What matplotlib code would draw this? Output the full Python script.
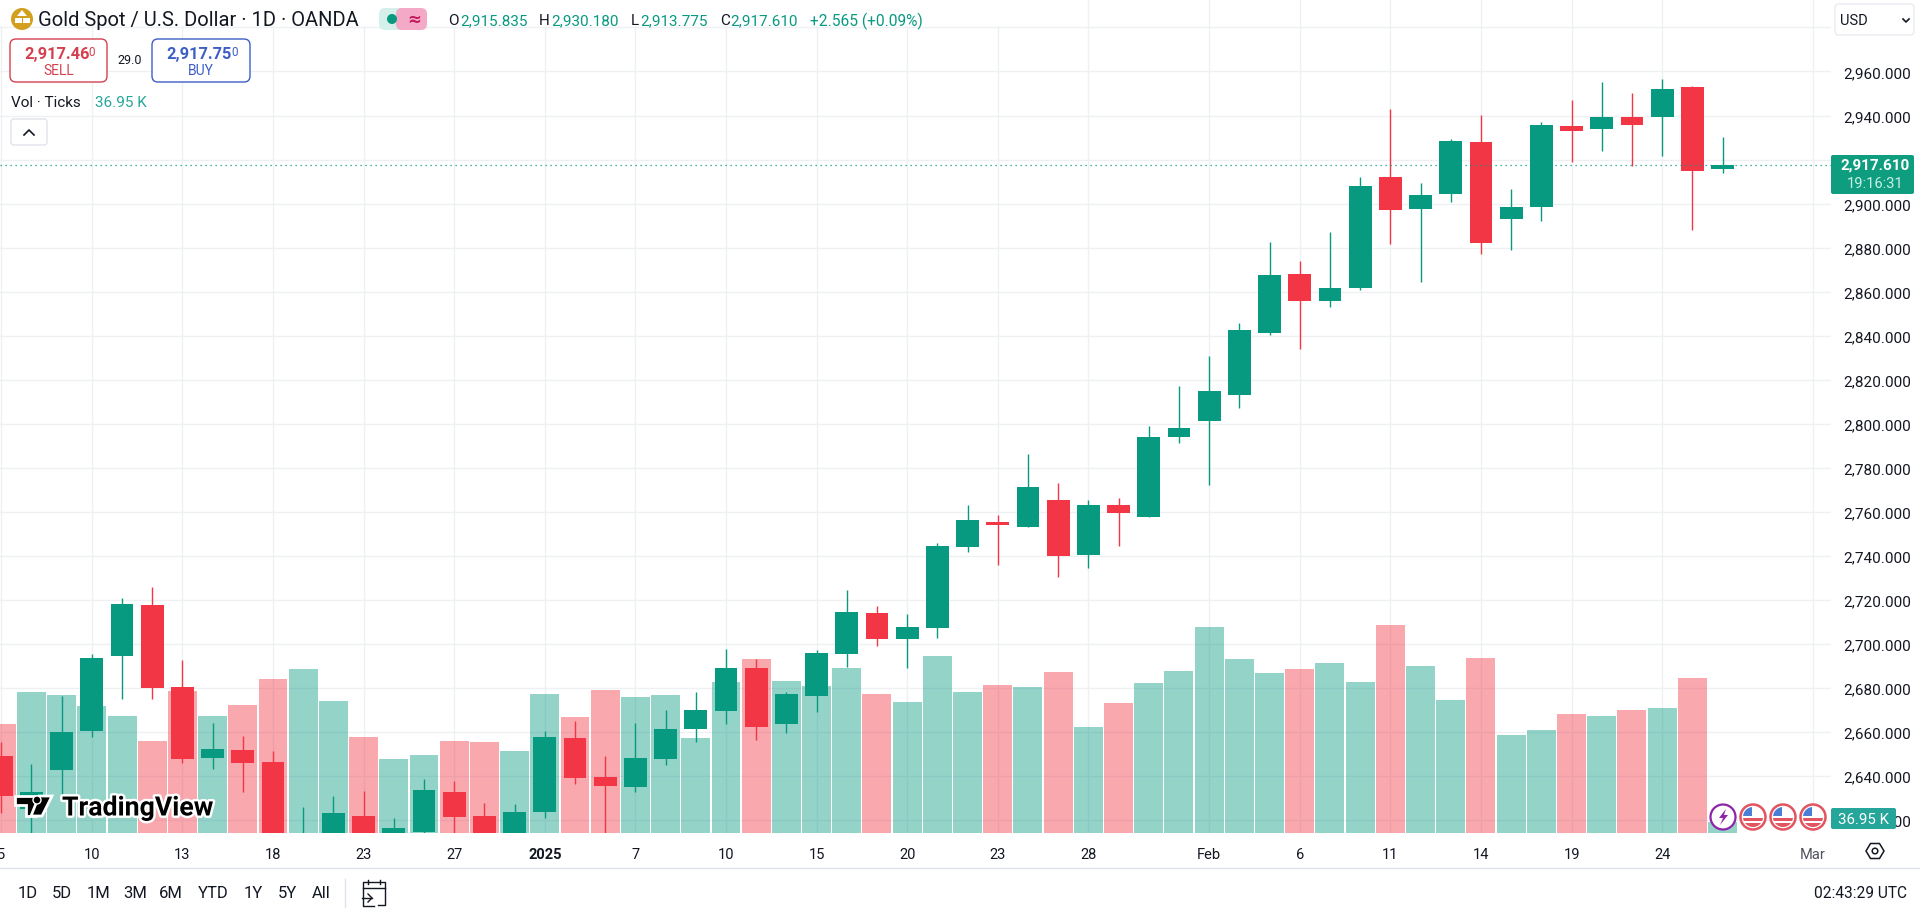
import matplotlib
matplotlib.use("Agg")
import matplotlib.pyplot as plt
import matplotlib.patheffects as pe
from matplotlib.patches import Circle, FancyBboxPatch, Polygon, Rectangle

# data
opens = [2649.2, 2625, 2642.6, 2660.6, 2694.7, 2717.9, 2680.6, 2648.3, 2652, 2646.5,
         2606, 2610, 2622, 2610, 2614.7, 2632.9, 2622, 2610, 2623.9, 2657.4,
         2639.7, 2635.2, 2647.9, 2661.5, 2669.7, 2689.2, 2663.8, 2676.5, 2695.6, 2714.2,
         2702.4, 2707.4, 2744.2, 2755.6, 2753.3, 2765.2, 2740.6, 2763.3, 2757.9, 2794.2,
         2801.5, 2812.9, 2841.1, 2867.9, 2855.6, 2861.5, 2912.1, 2897.6, 2904.4, 2928,
         2893, 2898.5, 2935.3, 2933.9, 2939.4, 2939.4, 2953, 2915.835]
highs = [2655.6, 2645.6, 2676.4, 2695.6, 2721, 2726, 2692.9, 2664.2, 2658.3, 2651.5,
         2626, 2631.2, 2633.3, 2621, 2638.8, 2637.9, 2627.9, 2627.4, 2660.6, 2665.2,
         2649.2, 2664.2, 2670.2, 2678.3, 2697.9, 2693.3, 2678.3, 2697.4, 2724.7, 2717.4,
         2713.8, 2746.1, 2763.3, 2758.8, 2786.1, 2772.9, 2765.2, 2766.5, 2798.8, 2817.3,
         2831, 2845.6, 2882.4, 2873.8, 2887, 2912.1, 2943, 2909.4, 2929.4, 2940.3,
         2906.7, 2937.1, 2947.1, 2955.3, 2950.3, 2956.7, 2953.5, 2930.18]
lows = [2623.3, 2605, 2632, 2657.9, 2675.2, 2675.2, 2646, 2643.3, 2632.9, 2605,
        2600, 2605, 2605, 2605, 2612, 2608, 2606, 2606, 2621.2, 2636.5,
        2608, 2632.9, 2645.2, 2655.6, 2663.8, 2656.5, 2659.7, 2669.2, 2689.7, 2699.2,
        2689.2, 2702.9, 2742, 2736, 2753, 2730.6, 2734.7, 2744.7, 2757.5, 2791.1,
        2772.4, 2807.4, 2840.2, 2834.2, 2852.9, 2860.6, 2881.7, 2864.4, 2900.8, 2877.1,
        2878.9, 2892.1, 2918.9, 2923.9, 2917.1, 2921.7, 2888, 2913.775]
closes = [2631.2, 2632.7, 2660.2, 2693.8, 2718.3, 2680.2, 2647.9, 2652.4, 2646, 2610,
          2612, 2623.3, 2610, 2616.5, 2633.8, 2621.5, 2610, 2623.8, 2657.9, 2639.2,
          2635.6, 2648.3, 2661.5, 2670.2, 2689.2, 2662.4, 2677.4, 2696.1, 2714.7, 2702.4,
          2707.9, 2744.7, 2756.5, 2754.2, 2771.1, 2740.2, 2763.3, 2759.7, 2794.2, 2797.9,
          2814.7, 2842.4, 2867.4, 2855.6, 2861.5, 2908, 2897.1, 2903.9, 2928.5, 2882.1,
          2898.5, 2935.8, 2933, 2939.4, 2935.8, 2952.1, 2914.8, 2917.61]
volumes_k = [366, 474, 464, 427, 393, 309, 477, 393, 430, 517,
             551, 444, 323, 249, 262, 309, 306, 276, 467, 390,
             480, 457, 464, 319, 507, 585, 511, 494, 554, 467,
             440, 595, 474, 497, 491, 541, 356, 437, 504, 544,
             692, 585, 538, 551, 571, 507, 699, 561, 447, 588,
             329, 346, 400, 393, 413, 420, 521, 36.95]
last_close = 2917.61

date_pos = [0, 3, 6, 9, 12, 15, 18, 21, 24, 27, 30, 33, 36, 40, 43, 46, 49, 52, 55, 60]
date_labels = ["5", "10", "13", "18", "23", "27", "2025", "7", "10", "15", "20", "23", "28",
               "Feb", "6", "11", "14", "19", "24", "Mar"]
price_ticks = list(range(2620, 3000, 20))
ranges = ["1D", "5D", "1M", "3M", "6M", "YTD", "1Y", "5Y", "All"]

GREEN = "#089981"
RED = "#F23645"
GRID = "#eef0f4"
INK = "#131722"
FONT = "Roboto"

plt.rcParams["font.family"] = [FONT, "DejaVu Sans"]

fig = plt.figure(figsize=(19.2, 9.12), dpi=100)
pos = [0, 1 - 834 / 912, 1831 / 1920, 834 / 912]
xlim = (-0.04, 60.59)
ylim = (2614.2, 2992.9)

# grid goes under the volume bars, candles over them
ax_bg = fig.add_axes(pos, zorder=1)
ax_bg.set_xlim(xlim)
ax_bg.set_ylim(ylim)
ax_bg.set_xticks(date_pos)
ax_bg.set_yticks(price_ticks)
ax_bg.grid(True, color=GRID, lw=1)
ax_bg.tick_params(length=0, labelbottom=False, labelleft=False)
for s in ax_bg.spines.values():
    s.set_visible(False)

ax_vol = fig.add_axes(pos, zorder=2)
ax_vol.patch.set_alpha(0)
ax_vol.axis("off")
ax_vol.set_xlim(xlim)
ax_vol.set_ylim(0, 2802)
idx = list(range(len(closes)))
colors = [GREEN if c >= o else RED for o, c in zip(opens, closes)]
ax_vol.bar(idx, volumes_k, width=0.96, color=colors, alpha=0.43, lw=0)

ax = fig.add_axes(pos, zorder=3)
ax.patch.set_alpha(0)
ax.set_xlim(xlim)
ax.set_ylim(ylim)
ax.vlines(idx, lows, highs, color=colors, lw=1)
bottoms = [min(o, c) for o, c in zip(opens, closes)]
heights = [abs(o - c) for o, c in zip(opens, closes)]
ax.bar(idx, heights, bottom=bottoms, width=0.76, color=colors, lw=0)
ax.axhline(last_close, color=GREEN, lw=0.9, ls=(0, (1, 3)))

ax.yaxis.tick_right()
ax.set_yticks(price_ticks)
# the 2,980 label sits behind the currency dropdown in the original
price_labels = [f"{p:,.3f}" if p != 2980 else "" for p in price_ticks]
ax.set_yticklabels(price_labels, fontsize=11, color=INK)
ax.set_xticks(date_pos)
ax.set_xticklabels(date_labels, fontsize=10.5, color=INK)
ax.get_xticklabels()[6].set_fontweight("bold")
ax.get_xticklabels()[-1].set_color("#50535e")
ax.tick_params(axis="y", length=0, pad=9)
ax.tick_params(axis="x", length=0, pad=10)
for s in ax.spines.values():
    s.set_visible(False)

# everything around the chart, in pixel coordinates
ov = fig.add_axes([0, 0, 1, 1], zorder=10)
ov.set_xlim(0, 1920)
ov.set_ylim(912, 0)
ov.axis("off")


def label(x, y, s, size=10.5, color=INK, ha="left", weight="normal", **kw):
    return ov.text(x, y, s, fontsize=size, color=color, ha=ha, va="center", fontweight=weight, **kw)


def box(x0, y0, x1, y1, fc="white", ec="none", r=3, lw=1):
    p = FancyBboxPatch((x0 + r, y0 + r), x1 - x0 - 2 * r, y1 - y0 - 2 * r,
                       boxstyle=f"round,pad={r}", fc=fc, ec=ec, lw=lw)
    ov.add_patch(p)
    return p


# header
ov.add_patch(Rectangle((0, 0), 1020, 27, fc="white", ec="none"))
ov.add_patch(Circle((22, 20), 11, fc="#d2a01e", ec="none"))
ov.add_patch(Polygon([[17, 17], [27, 17], [22, 11]], fc="white"))
ov.add_patch(Rectangle((15, 19), 6.5, 5, fc="white"))
ov.add_patch(Rectangle((23, 19), 6.5, 5, fc="white"))
label(38, 21, "Gold Spot / U.S. Dollar · 1D · OANDA", size=14.5)

box(379, 9, 410, 31, fc="#d5efeb", r=6)
box(396, 9, 427, 31, fc="#f4a9c6", r=6)
ov.add_patch(Rectangle((403, 9), 3, 22, fc="#f4a9c6", ec="none"))
ov.add_patch(Circle((392, 20), 5, fc=GREEN, ec="none"))
label(414, 20, "≈", size=12, color="#c2185b", ha="center", weight="bold", family="DejaVu Sans")

vals = [(448, "O", 460, "2,915.835"), (539, "H", 551, "2,930.180"),
        (631, "L", 640, "2,913.775"), (720, "C", 730, "2,917.610")]
for x0, name, x1, v in vals:
    label(x0, 21, name, size=11)
    label(x1, 21, v, size=11, color=GREEN)
label(810, 21, "+2.565 (+0.09%)", size=11.2, color=GREEN)

# sell / buy boxes
box(10, 40, 107, 83, ec="#d5404f", r=6, lw=1)
box(152, 40, 250, 83, ec="#3d5fc4", r=6, lw=1)
label(24, 54, "2,917.46", size=11.8, color="#d5404f", weight="bold")
label(88, 53, "0", size=8.5, color="#d5404f")
label(59, 71, "SELL", size=10, color="#d5404f", ha="center")
label(166, 54, "2,917.75", size=11.8, color="#3d5fc4", weight="bold")
label(231, 53, "0", size=8.5, color="#3d5fc4")
label(201, 71, "BUY", size=10, color="#3d5fc4", ha="center")
label(130, 61, "29.0", size=9, ha="center")

label(11, 103, "Vol · Ticks", size=11)
label(95, 103, "36.95 K", size=11, color="#26a69a")
box(11, 120, 47, 146, ec="#e0e3eb", r=3)
ov.plot([24, 29, 34], [136, 131, 136], color=INK, lw=1.2)

# currency dropdown and price tags
box(1835, 5, 1914, 36, ec="#e9ebf0", r=4)
label(1840, 21, "USD", size=10.5)
ov.plot([1903, 1906, 1909], [20, 23, 20], color=INK, lw=1.2)

box(1831, 156, 1914, 195, fc="#0f9d80", r=2)
label(1875, 166, "2,917.610", size=11, color="white", ha="center", weight="bold")
label(1875, 184, "19:16:31", size=10.5, color="#c8f0e6", ha="center")
box(1831, 809, 1896, 830, fc="#26a69a", r=2)
label(1864, 820, "36.95 K", size=10.8, color="white", ha="center")

# event markers
ov.add_patch(Circle((1723, 818), 12.5, fc="white", ec="#8e24aa", lw=1.6))
ov.add_patch(Polygon([[1726, 810], [1719, 819], [1723, 819], [1720, 826], [1728, 816], [1724, 816]],
                     fc="#8e24aa"))
for cx in [1753, 1783, 1813]:
    ring = Circle((cx, 818), 12.5, fc="white", ec="#e2545f", lw=1.8)
    ov.add_patch(ring)
    inner = Circle((cx, 818), 10, transform=ov.transData)
    for y0, h, c in [(808, 9, "#4a7fd6"), (819, 3, "#e2545f"), (824, 4, "#e2545f")]:
        w = 10 if c == "#4a7fd6" else 22
        r = Rectangle((cx - 11, y0), w, h, fc=c, ec="none")
        ov.add_patch(r)
        r.set_clip_path(inner)

# watermark
stroke = [pe.withStroke(linewidth=3.5, foreground="white")]
logo_parts = [
    [[15, 797], [36, 797], [36, 817], [26, 817], [26, 806], [15, 806]],
    [[39, 797], [52, 797], [42, 817], [31, 817]],
]
for part in logo_parts:
    ov.add_patch(Polygon(part, fc="black", ec="white", lw=2))
ov.add_patch(Circle((37, 801), 4, fc="black", ec="white", lw=1))
label(62, 809, "TradingView", size=19.2, color="black", weight="bold", path_effects=stroke)

# bottom toolbar
ov.plot([0, 1920], [869, 869], color="#e0e3eb", lw=1)
for x, r in zip([28, 62, 99, 135, 171, 213, 253, 287, 321], ranges):
    label(x, 894, r, size=12, ha="center")
ov.plot([345, 345], [880, 908], color="#e0e3eb", lw=1)
label(1907, 894, "02:43:29 UTC", size=11.2, ha="right")

# calendar icon
ov.plot([374, 363, 363, 385, 385, 378], [907, 907, 883, 883, 906, 906], color=INK, lw=1)
ov.plot([363, 385], [889, 889], color=INK, lw=1)
ov.plot([368, 368], [881, 885], color=INK, lw=1)
ov.plot([380, 380], [881, 885], color=INK, lw=1)
ov.plot([362, 372], [899, 899], color=INK, lw=1)
ov.plot([368, 372, 368], [895, 899, 903], color=INK, lw=1)

# settings hexagon
ov.add_patch(Polygon([[1866, 852], [1870.5, 844.5], [1879.5, 844.5], [1884, 852], [1879.5, 859.5], [1870.5, 859.5]],
                     fc="white", ec=INK, lw=1.1))
ov.add_patch(Circle((1875, 852), 2.8, fc="white", ec=INK, lw=1.1))

fig.savefig("out.png", dpi=100)
